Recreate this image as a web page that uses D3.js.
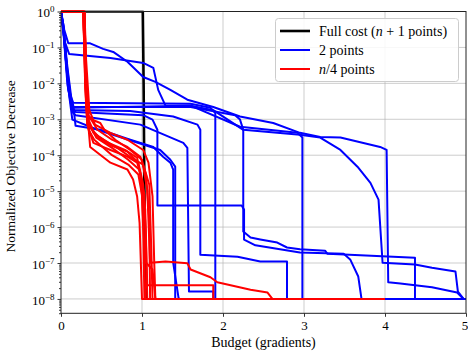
<!DOCTYPE html>
<html><head><meta charset="utf-8">
<script src="https://cdn.jsdelivr.net/npm/d3@7"></script>
<style>
body{margin:0;background:#fff}
svg{display:block}
text{font-family:"Liberation Serif","Times New Roman",serif;fill:#000}
</style>
</head><body>
<svg id="chart" width="468" height="351"></svg>
<script>
// ---- data (budget in gradients, normalized objective decrease) ----
const xTickValues = [0, 1, 2, 3, 4, 5];
const yTickExponents = [0, -1, -2, -3, -4, -5, -6, -7, -8];
const legendLabels = ["Full cost", "2 points", "n/4 points"];
const seriesColors = ["#000000", "#0000ff", "#ff0000"];

const fullCost = [[0,1],[1.01,1],[1.02,0.01],[1.03,1e-5],[1.04,1e-7],[1.05,1e-8]];

const twoPoints = [
  [[0,1],[0.04,0.31],[0.09,0.13],[0.36,0.13],[0.52,0.091],[0.645,0.075],[0.82,0.040],[1.015,0.015],[1.165,0.011],[1.35,0.0066],[1.56,0.0035],[1.88,0.0022],[2.21,0.0012],[2.62,7.9e-4],[2.95,4.2e-4],[3.2,3.2e-4],[3.45,3.1e-4],[3.94,1.7e-4],[4.02,1.4e-4],[4.04,2.9e-8],[4.19,2.7e-8],[4.58,2.1e-8],[4.89,1.5e-8],[4.97,1e-8],[5,1e-8]],
  [[0,1],[0.04,0.16],[0.1,0.066],[0.61,0.051],[1.015,0.037],[1.14,0.027],[1.2,0.0066],[1.29,0.0024],[1.6,0.0024],[1.88,0.0018],[2.25,5.1e-4],[2.95,3.7e-4],[3.2,3.1e-4],[3.45,1.4e-4],[3.66,4.8e-5],[3.82,1.7e-5],[3.92,5.8e-6],[3.97,1.02e-7],[4.37,9.1e-8],[4.58,7.4e-8],[4.87,5.8e-8],[4.9,1.6e-8],[4.97,1e-8],[5,1e-8]],
  [[0,1],[0.03,0.42],[0.065,0.045],[0.115,0.0048],[0.15,0.0029],[1.6,0.0027],[1.845,0.0021],[1.905,0.0015],[1.905,1e-8],[5,1e-8]],
  [[0,1],[0.03,0.35],[0.08,0.027],[0.13,0.0035],[0.15,0.0022],[1.6,0.0022],[2.15,0.0013],[2.21,9.8e-4],[2.25,5.1e-4],[2.25,7.5e-7],[2.34,5.1e-7],[2.46,4.5e-7],[2.67,3.7e-7],[2.79,2.7e-7],[2.95,2.4e-7],[3.26,2.2e-7],[3.29,1.8e-7],[4.37,1.4e-7],[4.37,1e-8],[5,1e-8]],
  [[0,1],[0.03,0.31],[0.08,0.013],[0.14,0.0021],[0.18,0.0016],[1.015,0.0013],[1.13,9.8e-4],[1.19,5.1e-4],[1.19,4.0e-6],[2.23,4.0e-6],[2.26,3.1e-6],[2.26,4.5e-7],[2.4,3.1e-7],[2.95,1.95e-7],[3.49,1.8e-7],[3.57,1.26e-7],[3.67,4.2e-8],[3.71,1e-8],[5,1e-8]],
  [[0,1],[0.03,0.31],[0.065,0.032],[0.115,0.0035],[0.15,0.0018],[0.855,0.0017],[1.385,0.0012],[1.685,7.1e-4],[1.72,5.1e-4],[1.72,1.7e-7],[2.18,1.5e-7],[2.46,1.1e-7],[2.79,1.1e-7],[2.79,1e-8],[5,1e-8]],
  [[0,1],[0.03,0.27],[0.08,0.0091],[0.14,0.0016],[0.18,0.0013],[0.98,7.1e-4],[1.51,2.2e-4],[1.56,1.6e-4],[1.58,1.6e-8],[1.88,1.6e-8],[1.88,1e-8],[5,1e-8]],
  [[0,1],[0.03,0.31],[0.09,0.0066],[0.15,0.0025],[0.18,6.6e-4],[0.485,5.1e-4],[0.855,2.7e-4],[1.14,1.7e-4],[1.26,9.1e-5],[1.35,6.2e-5],[1.385,4.0e-5],[1.385,1.02e-7],[1.45,1.1e-8],[1.46,1e-8],[5,1e-8]],
  [[0,1],[0.04,0.22],[0.1,0.0048],[0.14,9.8e-4],[0.45,5.1e-4],[1.225,1.4e-4],[1.35,7.5e-5],[1.41,4.8e-5],[1.41,1e-8],[5,1e-8]],
  [[0,1],[0.03,0.37],[0.08,0.017],[0.13,0.0027],[0.15,0.0021],[1.6,0.0024],[2.21,6.2e-4],[2.92,4.2e-4],[2.98,3.1e-4],[2.98,1e-8],[5,1e-8]]
];

const quarterPoints = [
  [[0,1],[0.29,1],[0.31,0.045],[0.35,0.0018],[0.42,7.1e-4],[0.61,4.2e-4],[0.82,2.7e-4],[1.015,1.4e-4],[1.08,6.2e-5],[1.13,7.1e-6],[1.15,1.26e-7],[1.165,1e-8],[4,1e-8]],
  [[0,1],[0.275,1],[0.3,0.024],[0.34,0.0013],[0.45,5.1e-4],[0.63,2.7e-4],[0.82,1.7e-4],[0.98,9.1e-5],[1.05,2.9e-5],[1.09,1.6e-6],[1.1,1e-8],[4,1e-8]],
  [[0,1],[0.29,1],[0.31,0.013],[0.34,9.8e-4],[0.42,3.7e-4],[0.61,1.9e-4],[0.82,1.26e-4],[0.955,6.2e-5],[1.015,1.5e-5],[1.05,4.5e-7],[1.065,1e-8],[4,1e-8]],
  [[0,1],[0.275,1],[0.3,0.0066],[0.325,7.1e-4],[0.4,2.2e-4],[0.61,1.4e-4],[0.82,9.1e-5],[0.94,6.2e-5],[0.98,3.2e-5],[1.0,7.1e-6],[1.015,8.5e-7],[1.03,1e-8],[4,1e-8]],
  [[0,1],[0.29,1],[0.31,0.0066],[0.34,5.8e-4],[0.36,1.7e-4],[0.61,6.2e-5],[0.82,4.0e-5],[0.89,2.1e-5],[0.94,7.1e-6],[0.97,1.3e-6],[1.0,1e-8],[4,1e-8]],
  [[0,1],[0.275,1],[0.3,0.017],[0.325,0.0011],[0.485,7.9e-4],[0.535,5.1e-4],[0.67,2.7e-4],[0.855,1.4e-4],[1.0,7.5e-5],[1.065,1.1e-5],[1.1,1.02e-7],[1.29,1.1e-7],[1.56,9.8e-8],[1.6,6.6e-8],[1.845,4.0e-8],[1.93,2.9e-8],[2.34,1.8e-8],[2.55,1.5e-8],[2.61,1e-8],[4,1e-8]],
  [[0,1],[0.29,1],[0.31,0.0091],[0.34,8.5e-4],[0.435,3.1e-4],[0.63,1.6e-4],[0.83,7.5e-5],[0.965,4.0e-5],[1.03,8e-6],[1.065,2.4e-8],[1.88,2.4e-8],[1.88,1e-8],[4,1e-8]],
  [[0,1],[0.275,1],[0.3,0.013],[0.325,9.8e-4],[0.4,4.2e-4],[0.585,2.2e-4],[0.79,1.4e-4],[0.94,8.5e-5],[0.99,2.1e-5],[1.04,3.1e-6],[1.05,1.02e-7],[1.13,6.6e-8],[1.165,1e-8],[4,1e-8]],
  [[0,1],[0.29,1],[0.31,0.0048],[0.34,5.1e-4],[0.41,2.7e-4],[0.63,1.0e-4],[0.83,5.5e-5],[0.955,2.9e-5],[1.0,7.9e-6],[1.03,2.4e-7],[1.04,1e-8],[4,1e-8]],
  [[0,1],[0.275,1],[0.3,0.0091],[0.325,7.1e-4],[0.47,3.2e-4],[0.695,1.6e-4],[0.87,8.5e-5],[1.015,5.5e-5],[1.09,1.5e-5],[1.115,2.4e-7],[1.13,1e-8],[4,1e-8]]
];

// ---- layout ----
const svg = d3.select("#chart");
const L = 61, R = 466, T = 11.5, B = 313.3;
const x = d3.scaleLinear().domain([0, 5]).range([L, R]);
const y = d3.scaleLog().domain([Math.pow(10, -8.4), 1]).range([B, T]);
const yTickValues = yTickExponents.map(e => Math.pow(10, e));

// gridlines
const grid = svg.append("g");
grid.selectAll(".gx").data(xTickValues.slice(1, -1)).enter().append("line")
  .attr("x1", d => x(d)).attr("x2", d => x(d)).attr("y1", T).attr("y2", B)
  .attr("stroke", "#b0b0b0").attr("stroke-opacity", 0.7).attr("stroke-width", 0.9);
grid.selectAll(".gy").data(yTickValues.slice(1)).enter().append("line")
  .attr("x1", L).attr("x2", R).attr("y1", d => y(d)).attr("y2", d => y(d))
  .attr("stroke", "#b0b0b0").attr("stroke-opacity", 0.7).attr("stroke-width", 0.9);

// clip
svg.append("clipPath").attr("id", "clip").append("rect")
  .attr("x", L).attr("y", T - 1).attr("width", R - L).attr("height", B - T + 1);

const line = d3.line().x(d => x(d[0])).y(d => y(d[1]));
const plot = svg.append("g").attr("clip-path", "url(#clip)");

plot.append("path").datum(fullCost).attr("d", line)
  .attr("fill", "none").attr("stroke", seriesColors[0]).attr("stroke-width", 2.6)
  .attr("stroke-linejoin", "round");
plot.selectAll(".blue").data(twoPoints).enter().append("path").attr("d", line)
  .attr("fill", "none").attr("stroke", seriesColors[1]).attr("stroke-width", 2)
  .attr("stroke-linejoin", "round");
plot.selectAll(".red").data(quarterPoints).enter().append("path").attr("d", line)
  .attr("fill", "none").attr("stroke", seriesColors[2]).attr("stroke-width", 2)
  .attr("stroke-linejoin", "round");

// axes
const xAxis = svg.append("g").attr("transform", `translate(0,${B})`)
  .call(d3.axisBottom(x).tickValues(xTickValues).tickSize(3.5).tickPadding(4).tickFormat(d3.format("d")));
xAxis.selectAll("text").attr("font-size", 13).attr("font-family", "Liberation Serif")
  .attr("dx", d => d === 5 ? -1.5 : 0);
xAxis.select(".domain").remove();

const yAxis = svg.append("g").attr("transform", `translate(${L},0)`)
  .call(d3.axisLeft(y).tickValues(yTickValues).tickSize(3.5).tickPadding(3).tickFormat(() => ""));
yAxis.select(".domain").remove();
yAxis.selectAll(".tick text").each(function(d) {
  const t = d3.select(this).attr("font-size", 13).attr("font-family", "Liberation Serif").attr("dy", "0.42em");
  const e = Math.round(Math.log10(d));
  t.append("tspan").text("10");
  t.append("tspan").attr("dy", -5).attr("font-size", 9).text(e === 0 ? "0" : "\u2212" + Math.abs(e));
});

// minor ticks on log axis
const minorVals = [];
for (let k = -9; k <= -1; k++) for (let m = 2; m <= 9; m++) {
  const v = m * Math.pow(10, k);
  if (v >= y.domain()[0] && v <= 1) minorVals.push(v);
}
const yMinor = svg.append("g").attr("transform", `translate(${L},0)`)
  .call(d3.axisLeft(y).tickValues(minorVals).tickSize(2).tickFormat(() => ""));
yMinor.select(".domain").remove();

svg.selectAll(".tick line").attr("stroke", "#000").attr("stroke-width", 0.8);

// frame
svg.append("rect").attr("x", L).attr("y", T).attr("width", R - L).attr("height", B - T)
  .attr("fill", "none").attr("stroke", "#222").attr("stroke-width", 1);

// axis labels
svg.append("text").attr("x", (L + R) / 2).attr("y", 347).attr("text-anchor", "middle")
  .attr("font-size", 14).text("Budget (gradients)");
svg.append("text").attr("transform", `translate(15,${(T + B) / 2 + 4}) rotate(-90)`)
  .attr("text-anchor", "middle").attr("font-size", 13.5).text("Normalized Objective Decrease");

// legend
const lg = svg.append("g");
lg.append("rect").attr("x", 275.5).attr("y", 18.5).attr("width", 183).attr("height", 63).attr("rx", 3)
  .attr("fill", "#fff").attr("fill-opacity", 0.85).attr("stroke", "#cccccc").attr("stroke-width", 1);
const rows = [31, 50, 69];
rows.forEach((ry, i) => {
  lg.append("line").attr("x1", 280).attr("x2", 310).attr("y1", ry).attr("y2", ry)
    .attr("stroke", seriesColors[i]).attr("stroke-width", i === 0 ? 2.6 : 2);
});
const t0 = lg.append("text").attr("x", 319).attr("y", rows[0]).attr("dy", "0.35em").attr("font-size", 14);
t0.append("tspan").text(legendLabels[0] + " (");
t0.append("tspan").attr("font-style", "italic").text("n");
t0.append("tspan").text(" + 1 points)");
lg.append("text").attr("x", 319).attr("y", rows[1]).attr("dy", "0.35em").attr("font-size", 14).text(legendLabels[1]);
const t2 = lg.append("text").attr("x", 319).attr("y", rows[2]).attr("dy", "0.35em").attr("font-size", 14);
t2.append("tspan").attr("font-style", "italic").text("n");
t2.append("tspan").text(legendLabels[2].slice(1));
</script>
</body></html>
